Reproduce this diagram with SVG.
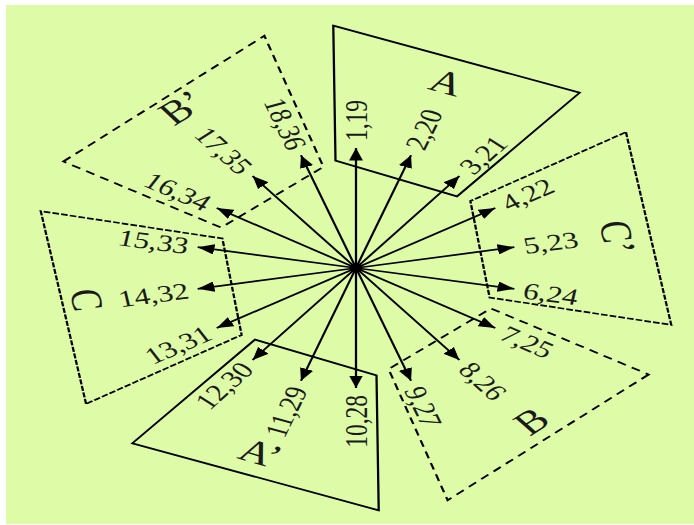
<svg xmlns="http://www.w3.org/2000/svg" width="694" height="525" viewBox="0 0 694 525">
<style>
.bg{fill:#DEFCA8}
.quad{fill:none;stroke:#000;stroke-width:1.7;stroke-linejoin:miter}
.dashC{stroke-dasharray:5 1.6}
.dashB{stroke-dasharray:7 5}
.arr{stroke:#000;stroke-width:1.7;marker-end:url(#ah)}
.num{font-family:"Liberation Serif","Times New Roman",serif;font-size:23.5px;fill:#1a1a1a}
.big{font-family:"Liberation Serif","Times New Roman",serif;font-size:33px;fill:#1a1a1a;text-anchor:middle}
.end{text-anchor:end}
</style>
<defs>
<marker id="ah" markerUnits="userSpaceOnUse" viewBox="0 0 12 10" markerWidth="12.5" markerHeight="10.5" refX="12" refY="5" orient="auto"><path d="M0,0 L12,5 L0,10 z" fill="#000"/></marker>
</defs>
<rect class="bg" x="6" y="5" width="688" height="519"/>
<g transform="translate(356,268) scale(1.34,1)">
<g id="node-A">
<polygon class="quad" points="-16.95,-242.4 166.9,-175.3 75.4,-71.6 -15.3,-107.4"/>
<text class="big" transform="rotate(20) translate(0,-198)" dy="0.35em">A</text>
</g>
<g id="node-C-prime">
<polygon class="quad dashC" transform="rotate(60)" points="-16.95,-242.4 166.9,-175.3 75.4,-71.6 -15.3,-107.4"/>
<text class="big" transform="rotate(81) translate(0,-198)" dy="0.35em">C’</text>
</g>
<g id="node-B">
<polygon class="quad dashB" transform="rotate(120)" points="-16.95,-242.4 166.9,-175.3 75.4,-71.6 -15.3,-107.4"/>
<text class="big" transform="rotate(139.5) translate(0,-201) rotate(180)" dy="0.35em">B</text>
</g>
<g id="node-A-prime">
<polygon class="quad" transform="rotate(180)" points="-16.95,-242.4 166.9,-175.3 75.4,-71.6 -15.3,-107.4"/>
<text class="big" transform="rotate(201) translate(0,-198) rotate(180)" dy="0.35em">A’</text>
</g>
<g id="node-C">
<polygon class="quad dashC" transform="rotate(240)" points="-16.95,-242.4 166.9,-175.3 75.4,-71.6 -15.3,-107.4"/>
<text class="big" transform="rotate(261) translate(0,-203) rotate(180)" dy="0.35em">C</text>
</g>
<g id="node-B-prime">
<polygon class="quad dashB" transform="rotate(300)" points="-16.95,-242.4 166.9,-175.3 75.4,-71.6 -15.3,-107.4"/>
<text class="big" transform="rotate(321) translate(0,-207)" dy="0.35em">B’</text>
</g>
<g id="connectors">
<line class="arr" x1="0" y1="0" x2="0" y2="-120" transform="rotate(0)"/>
<line class="arr" x1="0" y1="0" x2="0" y2="-120" transform="rotate(20)"/>
<line class="arr" x1="0" y1="0" x2="0" y2="-120" transform="rotate(40)"/>
<line class="arr" x1="0" y1="0" x2="0" y2="-120" transform="rotate(60)"/>
<line class="arr" x1="0" y1="0" x2="0" y2="-120" transform="rotate(80)"/>
<line class="arr" x1="0" y1="0" x2="0" y2="-120" transform="rotate(100)"/>
<line class="arr" x1="0" y1="0" x2="0" y2="-120" transform="rotate(120)"/>
<line class="arr" x1="0" y1="0" x2="0" y2="-120" transform="rotate(140)"/>
<line class="arr" x1="0" y1="0" x2="0" y2="-120" transform="rotate(160)"/>
<line class="arr" x1="0" y1="0" x2="0" y2="-120" transform="rotate(180)"/>
<line class="arr" x1="0" y1="0" x2="0" y2="-120" transform="rotate(200)"/>
<line class="arr" x1="0" y1="0" x2="0" y2="-120" transform="rotate(220)"/>
<line class="arr" x1="0" y1="0" x2="0" y2="-120" transform="rotate(240)"/>
<line class="arr" x1="0" y1="0" x2="0" y2="-120" transform="rotate(260)"/>
<line class="arr" x1="0" y1="0" x2="0" y2="-120" transform="rotate(280)"/>
<line class="arr" x1="0" y1="0" x2="0" y2="-120" transform="rotate(300)"/>
<line class="arr" x1="0" y1="0" x2="0" y2="-120" transform="rotate(320)"/>
<line class="arr" x1="0" y1="0" x2="0" y2="-120" transform="rotate(340)"/>
<circle cx="0" cy="0" r="5" fill="#000"/>
<text class="num" transform="rotate(0) translate(0,-127) rotate(-90)" dy="0.35em">1,19</text>
<text class="num" transform="rotate(20) translate(0,-127) rotate(-90)" dy="0.35em">2,20</text>
<text class="num" transform="rotate(40) translate(0,-127) rotate(-90)" dy="0.35em">3,21</text>
<text class="num" transform="rotate(60) translate(0,-127) rotate(-90)" dy="0.35em">4,22</text>
<text class="num" transform="rotate(80) translate(0,-127) rotate(-90)" dy="0.35em">5,23</text>
<text class="num" transform="rotate(100) translate(0,-127) rotate(-90)" dy="0.35em">6,24</text>
<text class="num" transform="rotate(120) translate(0,-127) rotate(-90)" dy="0.35em">7,25</text>
<text class="num" transform="rotate(140) translate(0,-127) rotate(-90)" dy="0.35em">8,26</text>
<text class="num" transform="rotate(160) translate(0,-127) rotate(-90)" dy="0.35em">9,27</text>
<text class="num end" transform="rotate(180) translate(0,-127) rotate(90)" dy="0.35em">10,28</text>
<text class="num end" transform="rotate(200) translate(0,-127) rotate(90)" dy="0.35em">11,29</text>
<text class="num end" transform="rotate(220) translate(0,-127) rotate(90)" dy="0.35em">12,30</text>
<text class="num end" transform="rotate(240) translate(0,-127) rotate(90)" dy="0.35em">13,31</text>
<text class="num end" transform="rotate(260) translate(0,-127) rotate(90)" dy="0.35em">14,32</text>
<text class="num end" transform="rotate(280) translate(0,-127) rotate(90)" dy="0.35em">15,33</text>
<text class="num end" transform="rotate(300) translate(0,-127) rotate(90)" dy="0.35em">16,34</text>
<text class="num end" transform="rotate(320) translate(0,-127) rotate(90)" dy="0.35em">17,35</text>
<text class="num end" transform="rotate(340) translate(0,-127) rotate(90)" dy="0.35em">18,36</text>
</g>
</g>
</svg>
